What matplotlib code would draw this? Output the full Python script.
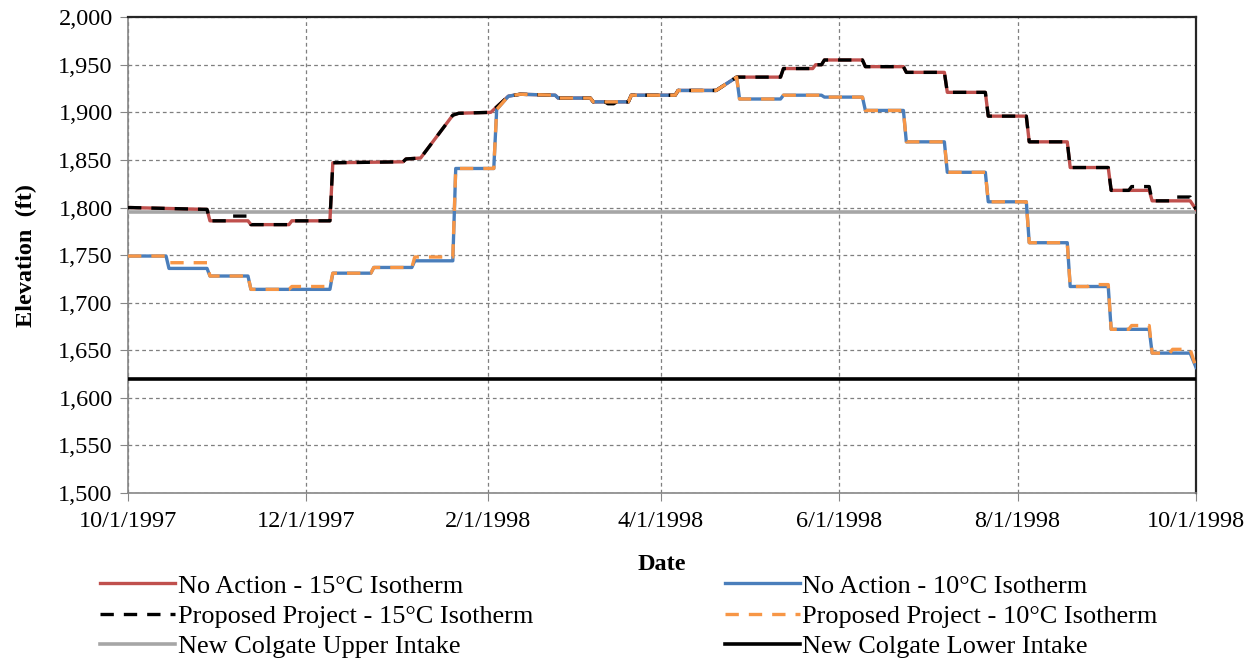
import pandas as pd
import matplotlib
matplotlib.use('Agg')
import matplotlib.pyplot as plt
from matplotlib.ticker import FuncFormatter

plt.rcParams['font.family'] = ['Liberation Serif', 'DejaVu Serif']

# No Action - 15C isotherm elevation (ft)
na15_dates = ['1997-10-01', '1997-10-28', '1997-10-29', '1997-11-11', '1997-11-12', '1997-11-25',
              '1997-11-26', '1997-12-09', '1997-12-10', '1998-01-03', '1998-01-04', '1998-01-09',
              '1998-01-20', '1998-01-22', '1998-02-02', '1998-02-08', '1998-02-12', '1998-02-24',
              '1998-02-25', '1998-03-08', '1998-03-09', '1998-03-21', '1998-03-22', '1998-04-06',
              '1998-04-07', '1998-04-20', '1998-04-27', '1998-05-12', '1998-05-13', '1998-05-23',
              '1998-05-24', '1998-05-26', '1998-05-27', '1998-06-09', '1998-06-10', '1998-06-23',
              '1998-06-24', '1998-07-07', '1998-07-08', '1998-07-21', '1998-07-22', '1998-08-04',
              '1998-08-05', '1998-08-18', '1998-08-19', '1998-09-01', '1998-09-02', '1998-09-15',
              '1998-09-16', '1998-09-29', '1998-10-01']
na15_vals = [1800, 1798, 1786, 1786, 1782, 1782, 1786, 1786, 1847, 1848, 1851, 1852,
             1897, 1899, 1900, 1917, 1919, 1918, 1915, 1915, 1911, 1911, 1918, 1918,
             1923, 1923, 1937, 1937, 1946, 1946, 1950, 1950, 1955, 1955, 1948, 1948,
             1942, 1942, 1921, 1921, 1896, 1896, 1869, 1869, 1842, 1842, 1818, 1818,
             1807, 1807, 1798]

# Proposed Project - 15C isotherm
pp15_dates = ['1997-10-01', '1997-10-28', '1997-10-29', '1997-11-04', '1997-11-05', '1997-11-11',
              '1997-11-12', '1997-11-25', '1997-11-26', '1997-12-09', '1997-12-10', '1998-01-03',
              '1998-01-04', '1998-01-09', '1998-01-20', '1998-01-22', '1998-02-02', '1998-02-08',
              '1998-02-12', '1998-02-24', '1998-02-25', '1998-03-08', '1998-03-09', '1998-03-13',
              '1998-03-14', '1998-03-16', '1998-03-17', '1998-03-21', '1998-03-22', '1998-04-06',
              '1998-04-07', '1998-04-20', '1998-04-27', '1998-05-12', '1998-05-13', '1998-05-23',
              '1998-05-24', '1998-05-26', '1998-05-27', '1998-06-09', '1998-06-10', '1998-06-23',
              '1998-06-24', '1998-07-07', '1998-07-08', '1998-07-21', '1998-07-22', '1998-08-04',
              '1998-08-05', '1998-08-18', '1998-08-19', '1998-09-01', '1998-09-02', '1998-09-08',
              '1998-09-09', '1998-09-15', '1998-09-16', '1998-09-22', '1998-09-23', '1998-09-29',
              '1998-10-01']
pp15_vals = [1800, 1798, 1786, 1786, 1791, 1791,
             1782, 1782, 1786, 1786, 1847, 1848,
             1851, 1852, 1897, 1899, 1900, 1917,
             1919, 1918, 1915, 1915, 1911, 1911,
             1909, 1909, 1911, 1911, 1918, 1918,
             1923, 1923, 1937, 1937, 1946, 1946,
             1950, 1950, 1955, 1955, 1948, 1948,
             1942, 1942, 1921, 1921, 1896, 1896,
             1869, 1869, 1842, 1842, 1818, 1818,
             1822, 1822, 1807, 1807, 1811, 1811,
             1798]

# No Action - 10C isotherm
na10_dates = ['1997-10-01', '1997-10-14', '1997-10-15', '1997-10-28', '1997-10-29', '1997-11-11',
              '1997-11-12', '1997-12-09', '1997-12-10', '1997-12-23', '1997-12-24', '1998-01-06',
              '1998-01-07', '1998-01-20', '1998-01-21', '1998-02-03', '1998-02-04', '1998-02-08',
              '1998-02-12', '1998-02-24', '1998-02-25', '1998-03-08', '1998-03-09', '1998-03-21',
              '1998-03-22', '1998-04-06', '1998-04-07', '1998-04-20', '1998-04-27', '1998-04-28',
              '1998-05-12', '1998-05-13', '1998-05-26', '1998-05-27', '1998-06-09', '1998-06-10',
              '1998-06-23', '1998-06-24', '1998-07-07', '1998-07-08', '1998-07-21', '1998-07-22',
              '1998-08-04', '1998-08-05', '1998-08-18', '1998-08-19', '1998-09-01', '1998-09-02',
              '1998-09-15', '1998-09-16', '1998-09-29', '1998-10-01']
na10_vals = [1749, 1749, 1736, 1736, 1728, 1728,
             1714, 1714, 1731, 1731, 1737, 1737,
             1744, 1744, 1841, 1841, 1903, 1917,
             1919, 1918, 1915, 1915, 1911, 1911,
             1918, 1918, 1923, 1923, 1937, 1914,
             1914, 1918, 1918, 1916, 1916, 1902,
             1902, 1869, 1869, 1837, 1837, 1806,
             1806, 1763, 1763, 1717, 1717, 1672,
             1672, 1647, 1647, 1632]

# Proposed Project - 10C isotherm
pp10_dates = ['1997-10-01', '1997-10-14', '1997-10-15', '1997-10-28', '1997-10-29', '1997-11-11',
              '1997-11-12', '1997-11-25', '1997-11-26', '1997-12-09', '1997-12-10', '1997-12-23',
              '1997-12-24', '1998-01-06', '1998-01-07', '1998-01-20', '1998-01-21', '1998-02-03',
              '1998-02-04', '1998-02-08', '1998-02-12', '1998-02-24', '1998-02-25', '1998-03-08',
              '1998-03-09', '1998-03-21', '1998-03-22', '1998-04-06', '1998-04-07', '1998-04-20',
              '1998-04-27', '1998-04-28', '1998-05-12', '1998-05-13', '1998-05-26', '1998-05-27',
              '1998-06-09', '1998-06-10', '1998-06-23', '1998-06-24', '1998-07-07', '1998-07-08',
              '1998-07-21', '1998-07-22', '1998-08-04', '1998-08-05', '1998-08-18', '1998-08-19',
              '1998-08-25', '1998-08-26', '1998-09-01', '1998-09-02', '1998-09-08', '1998-09-09',
              '1998-09-15', '1998-09-16', '1998-09-22', '1998-09-23', '1998-09-29', '1998-10-01']
pp10_vals = [1749, 1749, 1742, 1742, 1728, 1728,
             1714, 1714, 1717, 1717, 1731, 1731,
             1737, 1737, 1748, 1748, 1841, 1841,
             1903, 1917, 1919, 1918, 1915, 1915,
             1911, 1911, 1918, 1918, 1923, 1923,
             1937, 1914, 1914, 1918, 1918, 1916,
             1916, 1902, 1902, 1869, 1869, 1837,
             1837, 1806, 1806, 1763, 1763, 1717,
             1717, 1719, 1719, 1672, 1672, 1676,
             1676, 1647, 1647, 1651, 1651, 1632]

upper_intake = 1795
lower_intake = 1620

tick_dates = ['1997-10-01', '1997-12-01', '1998-02-01', '1998-04-01',
              '1998-06-01', '1998-08-01', '1998-10-01']
y_ticks = list(range(1500, 2001, 50))

fig = plt.figure(figsize=(12.55, 6.6), dpi=100)
ax = fig.add_axes([0.102, 0.253, 0.851, 0.721])

ax.plot(pd.to_datetime(na15_dates), na15_vals, color='#C0504D', lw=2.4, label='No Action - 15°C Isotherm', zorder=4)
ax.plot(pd.to_datetime(na10_dates), na10_vals, color='#4A7EBB', lw=2.4, label='No Action - 10°C Isotherm', zorder=4)
ax.plot(pd.to_datetime(pp15_dates), pp15_vals, color='black', lw=2.4, dashes=(4, 3),
        label='Proposed Project - 15°C Isotherm', zorder=5)
ax.plot(pd.to_datetime(pp10_dates), pp10_vals, color='#F79646', lw=2.4, dashes=(4, 3),
        label='Proposed Project - 10°C Isotherm', zorder=5)
ax.axhline(upper_intake, color='#A6A6A6', lw=2.6, label='New Colgate Upper Intake', zorder=3)
ax.axhline(lower_intake, color='black', lw=2.6, label='New Colgate Lower Intake', zorder=3)

ticks = pd.to_datetime(tick_dates)
ax.set_xlim(ticks[0], ticks[-1])
ax.set_ylim(1500, 2000)
ax.set_xticks(ticks)
ax.set_xticklabels([f'{d.month}/{d.day}/{d.year}' for d in ticks])
ax.set_yticks(y_ticks)
ax.yaxis.set_major_formatter(FuncFormatter(lambda v, p: f'{int(v):,}'))

ax.grid(True, color='#7F7F7F', ls=(0, (3, 2.5)), lw=0.9)
ax.tick_params(axis='both', labelsize=17.5, direction='out', length=6, color='#868686', pad=5)
ax.tick_params(axis='x', pad=7)
for s in ['left', 'bottom']:
    ax.spines[s].set_color('#868686')
    ax.spines[s].set_linewidth(1.2)
for s in ['top', 'right']:
    ax.spines[s].set_color('#262626')
    ax.spines[s].set_linewidth(1.6)

ax.set_xlabel('Date', fontsize=17.5, fontweight='bold', labelpad=16)
ax.set_ylabel('Elevation  (ft)', fontsize=17.5, fontweight='bold', labelpad=15)

# legend fills column by column: rows pair 15C / 10C, then the intakes
h, l = ax.get_legend_handles_labels()
order = [0, 2, 4, 1, 3, 5]
fig.legend([h[i] for i in order], [l[i] for i in order], loc='upper left', ncol=2,
           bbox_to_anchor=(0.0713, 0.146), frameon=False, fontsize=18.9,
           handlelength=2.86, handletextpad=0.1, labelspacing=0.27, columnspacing=7.3,
           borderaxespad=0)

fig.savefig('out.png', dpi=100)
